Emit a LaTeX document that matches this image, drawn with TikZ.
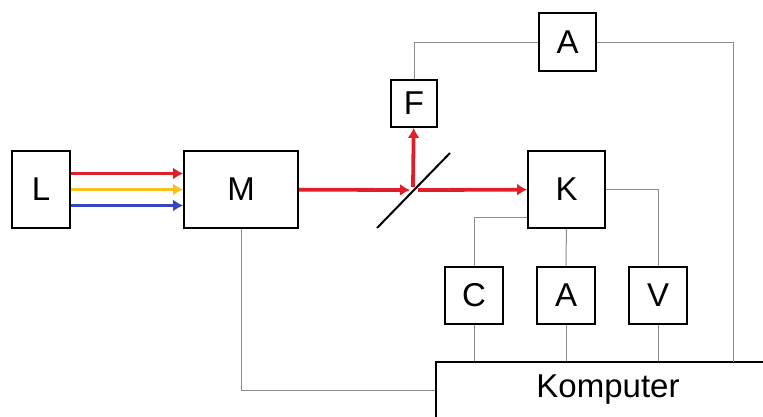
\documentclass[tikz,border=0pt]{standalone}
\usepackage{fontspec}
\setmainfont{Liberation Sans}
\usetikzlibrary{arrows.meta,positioning}
\definecolor{beamred}{RGB}{224,30,42}
\definecolor{beamyellow}{RGB}{252,192,30}
\definecolor{beamblue}{RGB}{56,70,196}
\definecolor{wiregray}{RGB}{140,140,140}
\tikzset{
  unit/.style={
    rectangle, draw=black, line width=1.8pt, fill=white,
    inner sep=0pt, font=\fontsize{33}{38}\selectfont
  },
  beam/.style={-{Latex[length=10pt,width=12pt]}, line width=3.8pt},
  beamR/.style={beam, color=beamred},
  beamY/.style={beam, color=beamyellow},
  beamB/.style={beam, color=beamblue},
  wire/.style={line width=1pt, color=wiregray},
  mirror/.style={line width=2pt, black}
}
\begin{document}
\begin{tikzpicture}[x=1pt,y=-1pt]
\useasboundingbox (0,0) rectangle (763,416);
\clip (0,0) rectangle (763,416);
\node[unit, minimum width=58pt,  minimum height=77pt] (L)  at (41,189.5)  {L};
\node[unit, minimum width=114pt, minimum height=77pt] (M)  at (241,189.5) {M};
\node[unit, minimum width=46pt,  minimum height=47pt] (F)  at (414,103.5) {F};
\node[unit, minimum width=57pt,  minimum height=58pt] (A1) at (567.5,42)  {A};
\node[unit, minimum width=77pt,  minimum height=77pt] (K)  at (566.5,189.5) {K};
\node[unit, minimum width=58pt,  minimum height=57pt] (C)  at (474,295.5) {C};
\node[unit, minimum width=58pt,  minimum height=57pt] (A2) at (566,295.5) {A};
\node[unit, minimum width=58pt,  minimum height=57pt] (V)  at (658,295.5) {V};
\node[unit, minimum width=344pt, minimum height=56pt] (pc) at (608,390)   {Komputer};
\coordinate (bs)  at (413,190);
\coordinate (pcA) at (733,362);

\draw[wire] (F) |- (A1);
\draw[wire] (A1) -| (pcA);
\draw[wire] (K.east) -| (V.north);
\draw[wire] ([yshift=-28pt]K.west) -| (C.north);
\draw[wire] (K) -- (A2);
\draw[wire] (C) -- (C |- pc.north);
\draw[wire] (A2) -- (A2 |- pc.north);
\draw[wire] (V) -- (V |- pc.north);
\draw[wire] (M) |- (pc);

\draw[beamR] ([yshift=16pt]L.east)  -- ([yshift=16pt]M.west);
\draw[beamY] (L.east)               -- (M.west);
\draw[beamB] ([yshift=-16pt]L.east) -- ([yshift=-16pt]M.west);

\draw[mirror] (bs) ++(-36,38) -- ++(73,-75);
\draw[beamR] (M) -- ([xshift=-3pt]bs);
\draw[beamR] ([xshift=5pt]bs) -- (K);
\draw[beamR] ([yshift=3pt]bs) -- (F);
\end{tikzpicture}
\end{document}
